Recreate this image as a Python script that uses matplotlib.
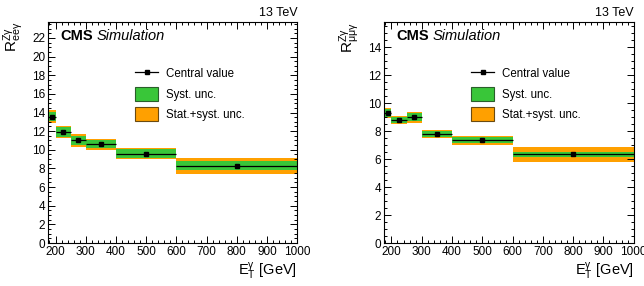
import numpy as np
import matplotlib.pyplot as plt
from matplotlib.lines import Line2D
from matplotlib.patches import Patch
from matplotlib.ticker import MultipleLocator

plt.rcParams['font.family'] = ['Liberation Sans', 'DejaVu Sans']
plt.rcParams['mathtext.fontset'] = 'custom'
plt.rcParams['mathtext.rm'] = 'Liberation Sans'
plt.rcParams['mathtext.it'] = 'Liberation Sans:italic'

# binning (GeV)
bin_lo = [175, 200, 250, 300, 400, 600]
bin_hi = [200, 250, 300, 400, 600, 1000]

# ee channel
ee_val = [13.55, 11.9, 11.0, 10.6, 9.6, 8.3]
ee_syst = [0.50, 0.50, 0.50, 0.42, 0.45, 0.48]
ee_tot = [0.72, 0.60, 0.68, 0.57, 0.63, 0.84]

# mumu channel
mm_val = [9.28, 8.8, 9.0, 7.8, 7.34, 6.35]
mm_syst = [0.28, 0.24, 0.27, 0.20, 0.21, 0.18]
mm_tot = [0.36, 0.29, 0.39, 0.27, 0.34, 0.52]

green = '#39c639'
orange = '#ffa000'

fig = plt.figure(figsize=(6.44, 2.86), dpi=100)
ax1 = fig.add_axes([0.0745, 0.150, 0.387, 0.773])
ax2 = fig.add_axes([0.596, 0.150, 0.388, 0.773])


def draw(ax, val, syst, tot, ymax, ylab):
    lo = np.array(bin_lo, float)
    hi = np.array(bin_hi, float)
    v = np.array(val)
    s = np.array(syst)
    t = np.array(tot)
    ax.bar(lo, 2 * t, width=hi - lo, bottom=v - t, align='edge', color=orange, lw=0, zorder=1)
    ax.bar(lo, 2 * s, width=hi - lo, bottom=v - s, align='edge', color=green, lw=0, zorder=2)
    ax.hlines(v, lo, hi, color='black', lw=0.9, zorder=3)
    ax.plot((lo + hi) / 2, v, 's', color='black', ms=3, zorder=4)
    ax.set_xlim(175, 1000)
    ax.set_ylim(0, ymax)
    ax.xaxis.set_major_locator(MultipleLocator(100))
    ax.xaxis.set_minor_locator(MultipleLocator(20))
    ax.yaxis.set_major_locator(MultipleLocator(2))
    ax.yaxis.set_minor_locator(MultipleLocator(0.5))
    ax.tick_params(which='both', direction='in', top=True, right=True, labelsize=8.5, width=0.7)
    ax.tick_params(which='major', length=5, pad=2)
    ax.tick_params(which='minor', length=2.5)
    for sp in ax.spines.values():
        sp.set_linewidth(0.8)
    ax.set_xlabel(r'$\mathregular{E_T^{\gamma}}$ [GeV]', fontsize=10.5, loc='right', labelpad=2)
    ax.set_ylabel(ylab, fontsize=11, loc='top')
    ax.yaxis.set_label_coords(-0.088, 1.0)
    ax.text(0.05, 0.935, 'CMS', transform=ax.transAxes, fontsize=10.5, fontweight='bold', va='center')
    ax.text(0.197, 0.935, 'Simulation', transform=ax.transAxes, fontsize=10.5, style='italic', va='center')
    ax.text(1.0, 1.012, '13 TeV', transform=ax.transAxes, fontsize=9, ha='right', va='bottom')
    handles = [Line2D([], [], color='black', lw=0.9, marker='s', ms=3),
               Patch(facecolor=green, edgecolor='#2a5e2a', lw=0.8),
               Patch(facecolor=orange, edgecolor='#6b4a10', lw=0.8)]
    ax.legend(handles, ['Central value', 'Syst. unc.', 'Stat.+syst. unc.'],
              loc='upper left', bbox_to_anchor=(0.35, 0.80), frameon=False, fontsize=8.3,
              borderpad=0, borderaxespad=0, handlelength=2.0, handleheight=1.45,
              labelspacing=0.6, handletextpad=0.65)


draw(ax1, ee_val, ee_syst, ee_tot, 23.7, r'$\mathregular{R^{Z\gamma}_{ee\gamma}}$')
draw(ax2, mm_val, mm_syst, mm_tot, 15.8, r'$\mathregular{R^{Z\gamma}_{\mu\mu\gamma}}$')

fig.savefig('out.png', dpi=100)
